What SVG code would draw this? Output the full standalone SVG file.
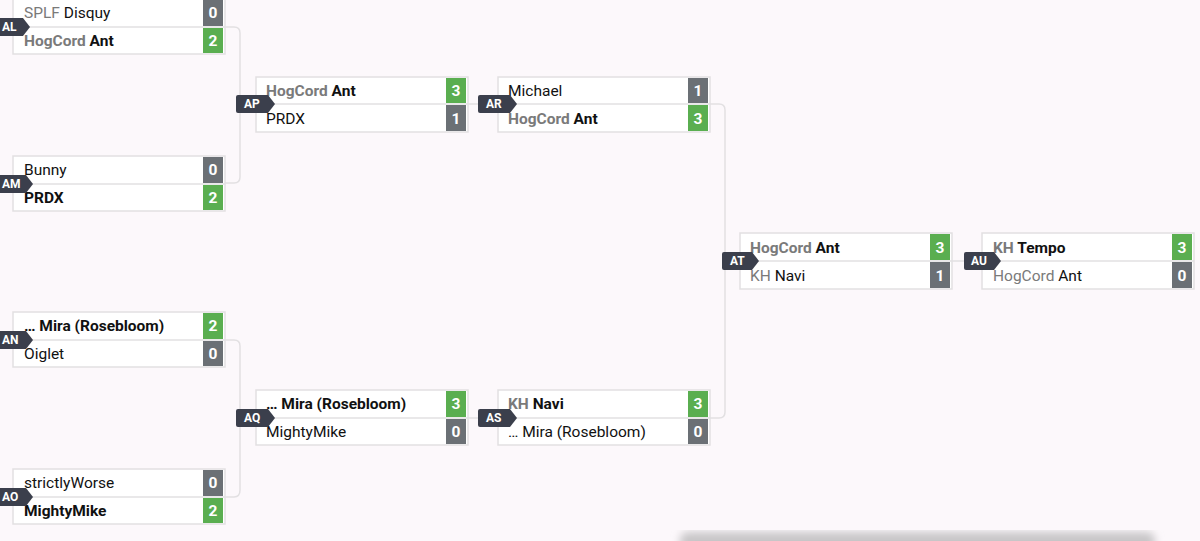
<svg xmlns="http://www.w3.org/2000/svg" width="1200" height="541" viewBox="0 0 1200 541">
<defs>
<style>
.box{fill:#fff;stroke:#e2e0e2;stroke-width:1.5}
.t{font-family:Roboto,"Liberation Sans",sans-serif;font-size:15.5px;fill:#111}
.g{fill:#7a7a7a}
.b{font-weight:bold}
.sw{fill:#5aae50}.sl{fill:#6b7075}
.sc{font-family:Roboto,"Liberation Sans",sans-serif;font-size:15.5px;font-weight:bold;fill:#fff;text-anchor:middle}
.tag{fill:#3b3f4c}
.tt{font-family:Roboto,"Liberation Sans",sans-serif;font-size:12px;font-weight:bold;fill:#fff}
.c{fill:none;stroke:#e2e0e2;stroke-width:1.5}
</style>
<filter id="bl"><feGaussianBlur stdDeviation="4"/></filter>
</defs>
<rect width="1200" height="541" fill="#fcf8fb"/>
<rect x="680" y="532" width="475" height="20" rx="8" fill="#c8c6c8" filter="url(#bl)"/>
<g id="connectors">
<path class="c" d="M225 27 H234 Q240 27 240 33 V177 Q240 183 234 183 H225 M240 104 H256"/>
<path class="c" d="M225 340 H234 Q240 340 240 346 V490 Q240 497 234 497 H225 M240 418 H256"/>
<path class="c" d="M468 104 H498 M468 418 H498"/>
<path class="c" d="M710 104 H719 Q725 104 725 110 V412 Q725 418 719 418 H710 M725 261 H740"/>
<path class="c" d="M952 261 H982"/>
</g>
<g id="AL"><rect class="box" x="13" y="-1" width="212" height="55"/><line class="c" x1="13" y1="27" x2="225" y2="27"/>
<rect class="sl" x="203" y="0" width="20" height="26"/><rect class="sw" x="203" y="28" width="20" height="25"/>
<text class="t" x="24" y="18"><tspan class="g">SPLF</tspan> Disquy</text><text class="sc" x="213" y="18">0</text>
<text class="t b" x="24" y="46"><tspan class="g">HogCord</tspan> Ant</text><text class="sc" x="213" y="46">2</text>
<path class="tag" d="M-5 18 H23 L30 27 L23 36 H-5 Z"/><text class="tt" x="2" y="31">AL</text></g>
<g id="AM"><rect class="box" x="13" y="156" width="212" height="55"/><line class="c" x1="13" y1="184" x2="225" y2="184"/>
<rect class="sl" x="203" y="157" width="20" height="26"/><rect class="sw" x="203" y="185" width="20" height="25"/>
<text class="t" x="24" y="175">Bunny</text><text class="sc" x="213" y="175">0</text>
<text class="t b" x="24" y="203">PRDX</text><text class="sc" x="213" y="203">2</text>
<path class="tag" d="M-5 175 H26 L33 184 L26 193 H-5 Z"/><text class="tt" x="2" y="188">AM</text></g>
<g id="AN"><rect class="box" x="13" y="312" width="212" height="55"/><line class="c" x1="13" y1="340" x2="225" y2="340"/>
<rect class="sw" x="203" y="313" width="20" height="26"/><rect class="sl" x="203" y="341" width="20" height="25"/>
<text class="t b" x="24" y="331">… Mira (Rosebloom)</text><text class="sc" x="213" y="331">2</text>
<text class="t" x="24" y="359">Oiglet</text><text class="sc" x="213" y="359">0</text>
<path class="tag" d="M-5 331 H26 L33 340 L26 349 H-5 Z"/><text class="tt" x="2" y="344">AN</text></g>
<g id="AO"><rect class="box" x="13" y="469" width="212" height="55"/><line class="c" x1="13" y1="497" x2="225" y2="497"/>
<rect class="sl" x="203" y="470" width="20" height="26"/><rect class="sw" x="203" y="498" width="20" height="25"/>
<text class="t" x="24" y="488">strictlyWorse</text><text class="sc" x="213" y="488">0</text>
<text class="t b" x="24" y="516">MightyMike</text><text class="sc" x="213" y="516">2</text>
<path class="tag" d="M-5 488 H26 L33 497 L26 506 H-5 Z"/><text class="tt" x="2" y="501">AO</text></g>
<g id="AP"><rect class="box" x="256" y="77" width="212" height="55"/><line class="c" x1="256" y1="104" x2="468" y2="104"/>
<rect class="sw" x="446" y="78" width="20" height="25"/><rect class="sl" x="446" y="105" width="20" height="26"/>
<text class="t b" x="266" y="96"><tspan class="g">HogCord</tspan> Ant</text><text class="sc" x="456" y="96">3</text>
<text class="t" x="266" y="124">PRDX</text><text class="sc" x="456" y="124">1</text>
<path class="tag" d="M238 95 H268 L275 104 L268 113 H238 Q236 113 236 111 V97 Q236 95 238 95 Z"/><text class="tt" x="244" y="108">AP</text></g>
<g id="AQ"><rect class="box" x="256" y="390" width="212" height="55"/><line class="c" x1="256" y1="418" x2="468" y2="418"/>
<rect class="sw" x="446" y="391" width="20" height="26"/><rect class="sl" x="446" y="419" width="20" height="25"/>
<text class="t b" x="266" y="409">… Mira (Rosebloom)</text><text class="sc" x="456" y="409">3</text>
<text class="t" x="266" y="437">MightyMike</text><text class="sc" x="456" y="437">0</text>
<path class="tag" d="M238 409 H268 L275 418 L268 427 H238 Q236 427 236 425 V411 Q236 409 238 409 Z"/><text class="tt" x="244" y="422">AQ</text></g>
<g id="AR"><rect class="box" x="498" y="77" width="212" height="55"/><line class="c" x1="498" y1="104" x2="710" y2="104"/>
<rect class="sl" x="688" y="78" width="20" height="25"/><rect class="sw" x="688" y="105" width="20" height="26"/>
<text class="t" x="508" y="96">Michael</text><text class="sc" x="698" y="96">1</text>
<text class="t b" x="508" y="124"><tspan class="g">HogCord</tspan> Ant</text><text class="sc" x="698" y="124">3</text>
<path class="tag" d="M480 95 H510 L517 104 L510 113 H480 Q478 113 478 111 V97 Q478 95 480 95 Z"/><text class="tt" x="486" y="108">AR</text></g>
<g id="AS"><rect class="box" x="498" y="390" width="212" height="55"/><line class="c" x1="498" y1="418" x2="710" y2="418"/>
<rect class="sw" x="688" y="391" width="20" height="26"/><rect class="sl" x="688" y="419" width="20" height="25"/>
<text class="t b" x="508" y="409"><tspan class="g">KH</tspan> Navi</text><text class="sc" x="698" y="409">3</text>
<text class="t" x="508" y="437">… Mira (Rosebloom)</text><text class="sc" x="698" y="437">0</text>
<path class="tag" d="M480 409 H510 L517 418 L510 427 H480 Q478 427 478 425 V411 Q478 409 480 409 Z"/><text class="tt" x="486" y="422">AS</text></g>
<g id="AT"><rect class="box" x="740" y="233" width="212" height="56"/><line class="c" x1="740" y1="261" x2="952" y2="261"/>
<rect class="sw" x="930" y="234" width="20" height="26"/><rect class="sl" x="930" y="262" width="20" height="26"/>
<text class="t b" x="750" y="253"><tspan class="g">HogCord</tspan> Ant</text><text class="sc" x="940" y="253">3</text>
<text class="t" x="750" y="281"><tspan class="g">KH</tspan> Navi</text><text class="sc" x="940" y="281">1</text>
<path class="tag" d="M724 252 H752 L759 261 L752 270 H724 Q722 270 722 268 V254 Q722 252 724 252 Z"/><text class="tt" x="730" y="265">AT</text></g>
<g id="AU"><rect class="box" x="982" y="233" width="212" height="56"/><line class="c" x1="982" y1="261" x2="1194" y2="261"/>
<rect class="sw" x="1172" y="234" width="20" height="26"/><rect class="sl" x="1172" y="262" width="20" height="26"/>
<text class="t b" x="993" y="253"><tspan class="g">KH</tspan> Tempo</text><text class="sc" x="1182" y="253">3</text>
<text class="t" x="993" y="281"><tspan class="g">HogCord</tspan> Ant</text><text class="sc" x="1182" y="281">0</text>
<path class="tag" d="M966 252 H994 L1001 261 L994 270 H966 Q964 270 964 268 V254 Q964 252 966 252 Z"/><text class="tt" x="971" y="265">AU</text></g>
</svg>
